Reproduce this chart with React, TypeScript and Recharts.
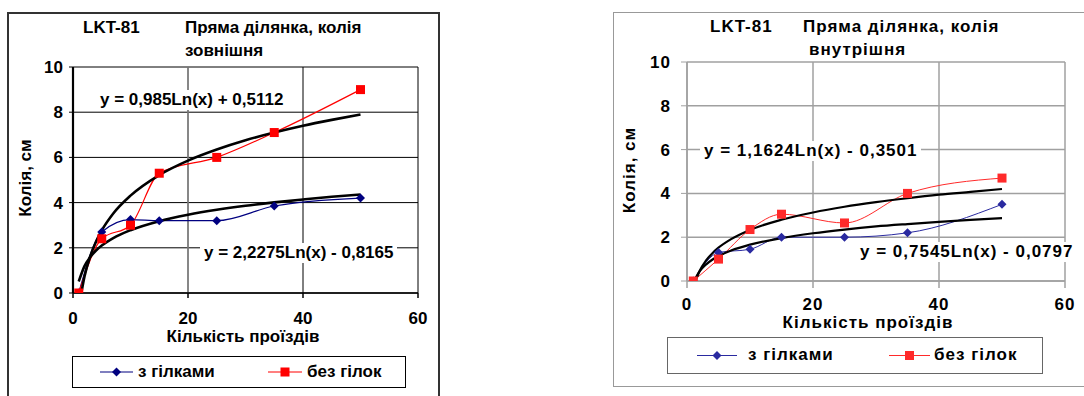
import { LineChart, Line, XAxis, YAxis, CartesianGrid, ReferenceLine } from 'recharts';

// number of passes (x) and track depth in cm (y)
const passes = [1, 5, 10, 15, 25, 35, 50];
const outerWithBranches = [0, 2.7, 3.25, 3.2, 3.2, 3.85, 4.2];
const outerNoBranches = [0, 2.4, 3.0, 5.3, 6.0, 7.1, 9.0];
const innerWithBranches = [0, 1.3, 1.45, 2.0, 2.0, 2.2, 3.5];
const innerNoBranches = [0, 1.0, 2.35, 3.05, 2.65, 4.0, 4.7];

// log trend curves
const outerTrendWithX = [1, 2, 3, 4, 5, 7, 10, 15, 20, 25, 30, 35, 40, 45, 50];
const outerTrendWithY = [0.51, 1.19, 1.59, 1.88, 2.1, 2.43, 2.78, 3.18, 3.46, 3.68, 3.86, 4.01, 4.14, 4.26, 4.36];
const outerTrendNoX = [1.45, 2, 3, 4, 5, 7, 10, 15, 20, 25, 30, 35, 40, 45, 50];
const outerTrendNoY = [0, 0.73, 1.63, 2.27, 2.77, 3.52, 4.31, 5.22, 5.86, 6.35, 6.76, 7.1, 7.4, 7.66, 7.9];
const innerTrendWithX = [1.1, 2, 3, 4, 5, 7, 10, 15, 20, 25, 30, 35, 40, 45, 50];
const innerTrendWithY = [0, 0.44, 0.75, 0.97, 1.14, 1.39, 1.66, 1.96, 2.18, 2.35, 2.49, 2.6, 2.7, 2.79, 2.87];
const innerTrendNoX = [1.35, 2, 3, 4, 5, 7, 10, 15, 20, 25, 30, 35, 40, 45, 50];
const innerTrendNoY = [0, 0.46, 0.93, 1.26, 1.52, 1.91, 2.33, 2.8, 3.13, 3.39, 3.6, 3.78, 3.94, 4.07, 4.2];

const xTicks = [0, 20, 40, 60];
const yTicks = [0, 2, 4, 6, 8, 10];

const seriesNames = ['з гілками', 'без гілок'];
const titleCode = 'LKT-81';
const titleMain = 'Пряма ділянка, колія';
const titleOuter = 'зовнішня';
const titleInner = 'внутрішня';
const xLabel = 'Кількість проїздів';
const yLabel = 'Колія, см';
const eqOuterWith = 'y = 0,985Ln(x) + 0,5112';
const eqOuterNo = 'y = 2,2275Ln(x) - 0,8165';
const eqInnerNo = 'y = 1,1624Ln(x) - 0,3501';
const eqInnerWith = 'y = 0,7545Ln(x) - 0,0797';

const toPoints = (xs: number[], ys: number[]) => xs.map((x, i) => ({ x, y: ys[i] }));

const FONT = '"Liberation Sans", Arial, sans-serif';

const diamond = (color: string, r: number) => (props: any) => {
    const { cx, cy, index } = props;
    if (cx == null || cy == null) return <g key={index} />;
    return (
        <path
            key={index}
            d={`M${cx},${cy - r}L${cx + r},${cy}L${cx},${cy + r}L${cx - r},${cy}Z`}
            fill={color}
        />
    );
};

const square = (color: string, r: number) => (props: any) => {
    const { cx, cy, index } = props;
    if (cx == null || cy == null) return <g key={index} />;
    return <rect key={index} x={cx - r} y={cy - r} width={r * 2} height={r * 2} fill={color} />;
};

type PanelProps = {
    left: number;
    width: number;
    margin: { top: number; right: number; bottom: number; left: number };
    yAxisWidth: number;
    gridColor: string;
    gridWidth: number;
    axisColor: string;
    yAxisLineWidth: number;
    xTickSize: number;
    xTickMargin: number;
    yTickSize: number;
    yTickMargin: number;
    spacing: number;
    midGridColor?: string;
    blue: string;
    red: string;
    lineWidth: number;
    trendWidth: number;
    withBranches: number[];
    noBranches: number[];
    trendWith: { x: number; y: number }[];
    trendNo: { x: number; y: number }[];
};

const Panel = (p: PanelProps) => {
    const tick = { fill: '#000', fontSize: 17, fontWeight: 700, fontFamily: FONT, letterSpacing: p.spacing };
    return (
        <div style={{ position: 'absolute', left: p.left, top: 0 }}>
            <LineChart width={p.width} height={396} margin={p.margin}>
                <CartesianGrid stroke={p.gridColor} strokeWidth={p.gridWidth} />
                {p.midGridColor && (
                    <ReferenceLine x={20} stroke={p.midGridColor} strokeWidth={1.5} />
                )}
                <XAxis
                    type="number"
                    dataKey="x"
                    domain={[0, 60]}
                    ticks={xTicks}
                    height={30}
                    tick={tick}
                    tickSize={p.xTickSize}
                    tickMargin={p.xTickMargin}
                    stroke={p.axisColor}
                    axisLine={{ stroke: p.axisColor, strokeWidth: 1.5 }}
                    tickLine={{ stroke: p.axisColor, strokeWidth: 1.5 }}
                    allowDataOverflow
                />
                <YAxis
                    type="number"
                    dataKey="y"
                    domain={[0, 10]}
                    ticks={yTicks}
                    width={p.yAxisWidth}
                    tick={tick}
                    tickSize={p.yTickSize}
                    tickMargin={p.yTickMargin}
                    stroke={p.axisColor}
                    axisLine={{ stroke: p.axisColor, strokeWidth: p.yAxisLineWidth }}
                    tickLine={{ stroke: p.axisColor, strokeWidth: 1 }}
                    allowDataOverflow
                />
                <Line
                    data={toPoints(passes, p.withBranches)}
                    dataKey="y"
                    type="monotone"
                    stroke={p.blue}
                    strokeWidth={p.lineWidth}
                    dot={diamond(p.blue, 4.5)}
                    activeDot={false}
                    isAnimationActive={false}
                />
                <Line
                    data={toPoints(passes, p.noBranches)}
                    dataKey="y"
                    type="monotone"
                    stroke={p.red}
                    strokeWidth={p.lineWidth}
                    dot={square(p.red, 4.5)}
                    activeDot={false}
                    isAnimationActive={false}
                />
                <Line
                    data={p.trendWith}
                    dataKey="y"
                    type="monotone"
                    stroke="#000"
                    strokeWidth={p.trendWidth}
                    dot={false}
                    activeDot={false}
                    isAnimationActive={false}
                />
                <Line
                    data={p.trendNo}
                    dataKey="y"
                    type="monotone"
                    stroke="#000"
                    strokeWidth={p.trendWidth}
                    dot={false}
                    activeDot={false}
                    isAnimationActive={false}
                />
            </LineChart>
        </div>
    );
};

const text = (spacing: number): React.CSSProperties => ({
    position: 'absolute',
    fontFamily: FONT,
    fontWeight: 700,
    fontSize: 17,
    lineHeight: '20px',
    color: '#000',
    whiteSpace: 'nowrap',
    letterSpacing: spacing,
});

type LegendProps = {
    left: number;
    top: number;
    width: number;
    height: number;
    border: string;
    spacing: number;
    blue: string;
    red: string;
    blueLine: [number, number];
    redLine: [number, number];
    blueText: number;
    redText: number;
};

const LegendBox = (l: LegendProps) => {
    const mid = l.height / 2;
    return (
        <div
            style={{
                position: 'absolute',
                left: l.left,
                top: l.top,
                width: l.width,
                height: l.height,
                border: l.border,
                boxSizing: 'border-box',
                background: '#fff',
            }}
        >
            <svg width={l.width} height={l.height} style={{ position: 'absolute', left: -1.5, top: -1.5 }}>
                <line x1={l.blueLine[0]} x2={l.blueLine[1]} y1={mid} y2={mid} stroke={l.blue} strokeWidth={1.2} />
                {diamond(l.blue, 4.5)({ cx: (l.blueLine[0] + l.blueLine[1]) / 2, cy: mid, index: 0 })}
                <line x1={l.redLine[0]} x2={l.redLine[1]} y1={mid} y2={mid} stroke={l.red} strokeWidth={1.2} />
                {square(l.red, 4.5)({ cx: (l.redLine[0] + l.redLine[1]) / 2, cy: mid, index: 1 })}
            </svg>
            <div style={{ ...text(l.spacing), left: l.blueText, top: mid - 11.5 }}>{seriesNames[0]}</div>
            <div style={{ ...text(l.spacing), left: l.redText, top: mid - 11.5 }}>{seriesNames[1]}</div>
        </div>
    );
};

const eqBox = (spacing: number): React.CSSProperties => ({
    ...text(spacing),
    background: '#fff',
    padding: '0 4px',
    zIndex: 2,
});

const App = () => {
    return (
        <div
            style={{
                position: 'absolute',
                left: 0,
                top: 0,
                width: 1084,
                height: 396,
                overflow: 'hidden',
                background: '#fff',
            }}
        >
            {/* left panel: outer rail */}
            <div
                style={{
                    position: 'absolute',
                    left: 7,
                    top: 12,
                    width: 433,
                    height: 400,
                    border: '2px solid #333',
                    boxSizing: 'border-box',
                }}
            />
            <Panel
                left={0}
                width={440}
                margin={{ top: 67, right: 22, bottom: 73, left: 8 }}
                yAxisWidth={65}
                gridColor="#000"
                gridWidth={1}
                axisColor="#000"
                yAxisLineWidth={2.2}
                xTickSize={5}
                xTickMargin={14}
                yTickSize={4}
                yTickMargin={6}
                spacing={0}
                midGridColor="#8a8a8a"
                blue="#000080"
                red="#ff0000"
                lineWidth={1.2}
                trendWidth={2.6}
                withBranches={outerWithBranches}
                noBranches={outerNoBranches}
                trendWith={toPoints(outerTrendWithX, outerTrendWithY)}
                trendNo={toPoints(outerTrendNoX, outerTrendNoY)}
            />
            <div style={{ ...text(0), left: 83, top: 18 }}>{titleCode}</div>
            <div style={{ ...text(0), left: 185, top: 18 }}>{titleMain}</div>
            <div style={{ ...text(0), left: 185, top: 41 }}>{titleOuter}</div>
            <div style={{ ...text(0), left: 93, top: 327, width: 300, textAlign: 'center' }}>{xLabel}</div>
            <div
                style={{
                    ...text(0),
                    left: -74,
                    top: 168,
                    width: 200,
                    textAlign: 'center',
                    transform: 'rotate(-90deg)',
                }}
            >
                {yLabel}
            </div>
            <div style={{ ...eqBox(0), left: 96, top: 90 }}>{eqOuterWith}</div>
            <div style={{ ...eqBox(0), left: 200, top: 243 }}>{eqOuterNo}</div>
            <LegendBox
                left={72}
                top={356}
                width={334}
                height={32}
                border="1.5px solid #000"
                spacing={0}
                blue="#000080"
                red="#ff0000"
                blueLine={[28, 61]}
                redLine={[196, 230]}
                blueText={65}
                redText={234}
            />

            {/* right panel: inner rail */}
            <div
                style={{
                    position: 'absolute',
                    left: 613,
                    top: 12,
                    width: 480,
                    height: 375,
                    border: '1.5px solid #999',
                    boxSizing: 'border-box',
                }}
            />
            <Panel
                left={600}
                width={484}
                margin={{ top: 62, right: 19, bottom: 85, left: 8 }}
                yAxisWidth={79}
                gridColor="#a0a0a0"
                gridWidth={1.5}
                axisColor="#a0a0a0"
                yAxisLineWidth={1.5}
                xTickSize={7}
                xTickMargin={10}
                yTickSize={6}
                yTickMargin={10}
                spacing={1}
                blue="#2a2aa0"
                red="#ff2a2a"
                lineWidth={1}
                trendWidth={2.2}
                withBranches={innerWithBranches}
                noBranches={innerNoBranches}
                trendWith={toPoints(innerTrendWithX, innerTrendWithY)}
                trendNo={toPoints(innerTrendNoX, innerTrendNoY)}
            />
            <div style={{ ...text(1), left: 710, top: 17 }}>{titleCode}</div>
            <div style={{ ...text(1), left: 803, top: 17 }}>{titleMain}</div>
            <div style={{ ...text(1), left: 809, top: 40 }}>{titleInner}</div>
            <div style={{ ...text(1), left: 718, top: 313, width: 300, textAlign: 'center' }}>{xLabel}</div>
            <div
                style={{
                    ...text(1),
                    left: 530,
                    top: 160,
                    width: 200,
                    textAlign: 'center',
                    transform: 'rotate(-90deg)',
                }}
            >
                {yLabel}
            </div>
            <div style={{ ...eqBox(1), left: 700, top: 141 }}>{eqInnerNo}</div>
            <div style={{ ...eqBox(1), left: 856, top: 242 }}>{eqInnerWith}</div>
            <LegendBox
                left={667}
                top={337}
                width={376}
                height={37}
                border="1.5px solid #666"
                spacing={1}
                blue="#2a2aa0"
                red="#ff2a2a"
                blueLine={[30, 70]}
                redLine={[222, 263]}
                blueText={80}
                redText={266}
            />
        </div>
    );
};

export default App;
